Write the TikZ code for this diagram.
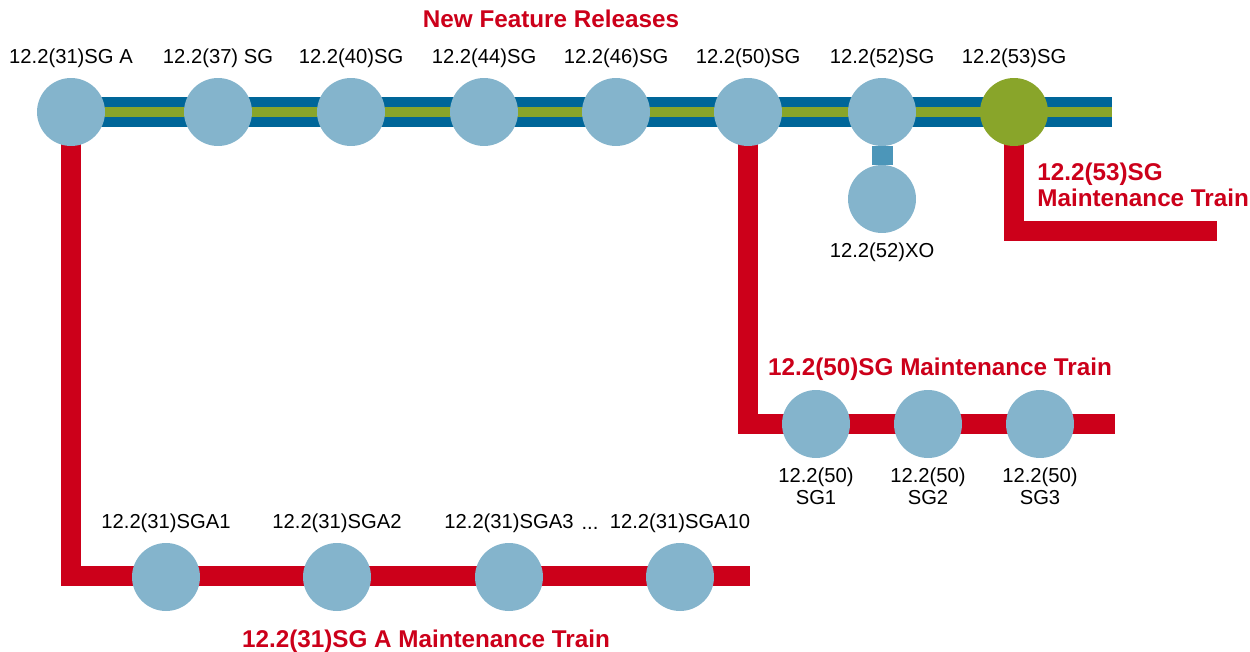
\documentclass[tikz,border=0pt]{standalone}
\usepackage{fontspec}
\setmainfont{Liberation Sans}
\usepackage{xcolor}
\usepackage{tikz}
\usetikzlibrary{backgrounds}

\definecolor{relblue}{RGB}{132,180,204}
\definecolor{bandblue}{RGB}{0,102,153}
\definecolor{bandgreen}{RGB}{137,165,42}
\definecolor{trainred}{RGB}{204,0,26}
\definecolor{xoblue}{RGB}{76,150,185}

\begin{document}
\begin{tikzpicture}[x=0.02cm,
				y=-0.02cm,
				rel/.style={circle, fill=relblue, minimum size=1.36cm, inner sep=0pt},
				lbl/.style={font=\fontsize{11.5}{12.5}\selectfont, inner sep=0pt, align=center},
				train/.style={font=\fontsize{13.8}{14.8}\selectfont\bfseries, text=trainred, inner sep=0pt},
				redline/.style={draw=trainred, line width=0.4cm},
				label distance=0.19cm]
				\useasboundingbox (0,0) rectangle (1250,652);
				% new feature releases
				\node at (551,28) (nfr) [train, anchor=base] {New Feature Releases};
				\node at (71,112) (r31) [rel, label={[lbl]above:12.2(31)SG A}] {};
				\node at (218,112) (r37) [rel, label={[lbl]above:12.2(37) SG}] {};
				\node at (351,112) (r40) [rel, label={[lbl]above:12.2(40)SG}] {};
				\node at (484,112) (r44) [rel, label={[lbl]above:12.2(44)SG}] {};
				\node at (616,112) (r46) [rel, label={[lbl]above:12.2(46)SG}] {};
				\node at (748,112) (r50) [rel, label={[lbl]above:12.2(50)SG}] {};
				\node at (882,112) (r52) [rel, label={[lbl]above:12.2(52)SG}] {};
				\node at (1014,112) (r53) [rel, fill=bandgreen, label={[lbl]above:12.2(53)SG}] {};
				\coordinate (topend) at (1112,112);
				\node at (882,199) (xo) [rel, label distance=0.25cm, label={[lbl]below:12.2(52)XO}] {};
				% 12.2(53)SG train
				\coordinate (m53end) at (1217,231);
				\node at (1037,185) (t53) [train, anchor=west, align=left] {12.2(53)SG\\Maintenance Train};
				% 12.2(50)SG train
				\coordinate (m50end) at (1115,424);
				\node at (940,375) (t50) [train, anchor=base] {12.2(50)SG Maintenance Train};
				\node at (816,424) (sg1) [rel, label distance=0.25cm, label={[lbl]below:{12.2(50)\\SG1}}] {};
				\node at (928,424) (sg2) [rel, label distance=0.25cm, label={[lbl]below:{12.2(50)\\SG2}}] {};
				\node at (1040,424) (sg3) [rel, label distance=0.25cm, label={[lbl]below:{12.2(50)\\SG3}}] {};
				% 12.2(31)SG A train
				\coordinate (sgaend) at (750,576);
				\node at (166,577) (sga1) [rel, label={[lbl]above:12.2(31)SGA1}] {};
				\node at (337,577) (sga2) [rel, label={[lbl]above:12.2(31)SGA2}] {};
				\node at (509,577) (sga3) [rel, label={[lbl]above:12.2(31)SGA3}] {};
				\node at (680,577) (sga10) [rel, label={[lbl]above:12.2(31)SGA10}] {};
				\node at (590,529) (dots) [lbl, anchor=base] {...};
				\node at (426,647) (t31) [train, anchor=base] {12.2(31)SG A Maintenance Train};
				\begin{scope}[on background layer]
					\draw[draw=bandblue, line width=0.6cm] (r31.center) -- (topend);
					\draw[draw=bandgreen, line width=0.2cm] (r31.center) -- (topend);
					\draw[draw=xoblue, line width=0.42cm] (r52) -- (xo);
					\draw[redline] (r31.center) |- (sgaend);
					\draw[redline] (r50.center) |- (m50end);
					\draw[redline] (r53.center) |- (m53end);
				\end{scope}
			\end{tikzpicture}
\end{document}
